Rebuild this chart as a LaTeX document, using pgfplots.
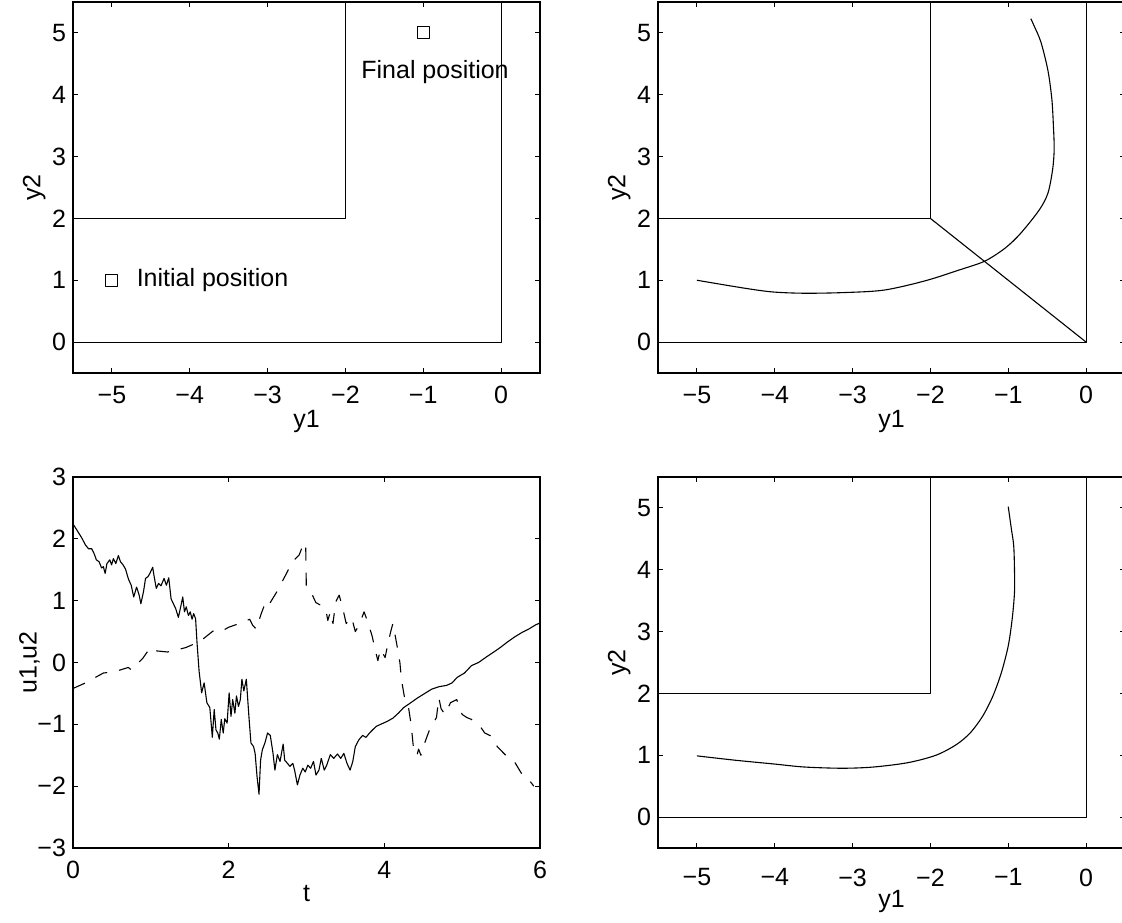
\documentclass[border=0pt]{standalone}
\usepackage{fontspec}
\setmainfont{Liberation Sans}
\usepackage{pgfplots}
\pgfplotsset{compat=1.18}
\pgfplotsset{
  myax/.style={
    width=233.5pt, height=185.5pt, scale only axis,
    anchor=south west,
    tick align=inside, major tick length=2.5pt,
    axis line style={line width=0.7pt, black},
    every tick/.style={black, line width=0.45pt},
    tick label style={font=\fontsize{12.5}{14}\selectfont},
    label style={font=\fontsize{12.5}{14}\selectfont},
    xticklabel style={yshift=-3pt},
    xlabel style={at={(axis description cs:0.5,-0.13)}, anchor=center},
    ylabel style={at={(axis description cs:-0.083,0.5)}, anchor=center},
    every axis plot/.append style={line width=0.55pt, black, line join=round},
  },
  posax/.style={
    myax,
    xmin=-5.5, xmax=0.5, ymin=-0.5, ymax=5.5,
    xtick={-5,-4,-3,-2,-1,0}, xticklabels={−5,−4,−3,−2,−1,0},
    ytick={0,1,2,3,4,5}, yticklabels={0,1,2,3,4,5},
    xlabel={y1}, ylabel={y2},
  }
}
\begin{document}
\begin{tikzpicture}
\path[use as bounding box] (0,0) rectangle (561pt,461pt);
\clip (0,0) rectangle (561pt,461pt);

% top-left
\begin{axis}[posax, at={(36.5pt,274.5pt)}]
\addplot[no marks] coordinates {(-5.5,2) (-2,2) (-2,5.5)};
\addplot[no marks] coordinates {(-5.5,0) (0,0) (0,5.5)};
\addplot[only marks, mark=square, mark size=3pt, mark options={line width=0.55pt}] coordinates {(-5,1) (-1,5)};
\node[anchor=west, inner sep=0pt, font=\fontsize{12.5}{14}\selectfont] at (axis cs:-4.686,1) {Initial position};
\node[anchor=west, inner sep=0pt, font=\fontsize{12.5}{14}\selectfont] at (axis cs:-1.80,4.37) {Final position};
\end{axis}

% top-right
\begin{axis}[posax, at={(329pt,274.5pt)}]
\addplot[no marks] coordinates {(-5.5,2) (-2,2) (-2,5.5)};
\addplot[no marks] coordinates {(-5.5,0) (0,0) (0,5.5)};
\addplot[no marks] coordinates {(-2,2) (0,0)};
\addplot[no marks, smooth] coordinates {
(-5,1.0) (-4.38,0.87) (-4.02,0.81) (-3.62,0.79) (-3.13,0.80) (-2.6,0.84)
(-2.07,0.99) (-1.62,1.17) (-1.30,1.31) (-1.04,1.52) (-0.84,1.76) (-0.6,2.14)
(-0.49,2.41) (-0.43,2.79) (-0.41,3.12) (-0.42,3.50) (-0.44,3.93) (-0.49,4.39)
(-0.58,4.85) (-0.67,5.12) (-0.71,5.23)};
\end{axis}

% bottom-left
\begin{axis}[myax, at={(36.5pt,37pt)},
  xmin=0, xmax=6, ymin=-3, ymax=3,
  xtick={0,2,4,6}, xticklabels={0,2,4,6},
  ytick={-3,-2,-1,0,1,2,3}, yticklabels={−3,−2,−1,0,1,2,3},
  xlabel={t}, ylabel={u1,u2},
  ylabel style={at={(axis description cs:-0.093,0.5)}},
  xlabel style={at={(axis description cs:0.5,-0.124)}}]
\addplot[no marks] coordinates {
(0,2.24) (0.046,2.15) (0.115,2.01) (0.16,1.90) (0.20,1.84) (0.24,1.84) (0.275,1.75)
(0.30,1.66) (0.335,1.63) (0.367,1.53) (0.39,1.55) (0.413,1.44) (0.436,1.60) (0.473,1.66)
(0.496,1.58) (0.519,1.68) (0.55,1.60) (0.583,1.73) (0.61,1.63) (0.643,1.58) (0.675,1.51)
(0.712,1.35) (0.748,1.25) (0.78,1.06) (0.817,1.22) (0.85,1.09) (0.872,0.95) (0.905,1.14)
(0.932,1.36) (0.964,1.39) (0.987,1.44) (1.024,1.54) (1.04,1.41) (1.07,1.20) (1.10,1.28)
(1.13,1.24) (1.17,1.36) (1.20,1.25) (1.23,1.37) (1.26,1.03) (1.29,0.95) (1.32,0.87)
(1.354,0.73) (1.387,0.92) (1.41,1.06) (1.432,0.82) (1.455,0.90) (1.483,0.76) (1.506,0.82)
(1.53,0.70) (1.55,0.79) (1.575,0.71) (1.593,0.33) (1.62,-0.14) (1.653,-0.49) (1.685,-0.33)
(1.72,-0.65) (1.758,-0.73) (1.79,-1.21) (1.814,-0.76) (1.837,-1.09) (1.86,-1.14) (1.88,-1.24)
(1.905,-0.92) (1.93,-1.14) (1.95,-0.91) (1.98,-0.98) (2.006,-0.49) (2.03,-0.87) (2.052,-0.60)
(2.08,-0.82) (2.10,-0.54) (2.126,-0.71) (2.15,-0.60) (2.17,-0.27) (2.195,-0.46) (2.227,-0.27)
(2.26,-0.87) (2.286,-1.30) (2.32,-1.36) (2.34,-1.47) (2.365,-1.85) (2.39,-2.13) (2.41,-1.58)
(2.433,-1.41) (2.466,-1.30) (2.50,-1.14) (2.535,-1.18) (2.57,-1.47) (2.594,-1.74) (2.626,-1.49)
(2.66,-1.60) (2.70,-1.32) (2.72,-1.58) (2.755,-1.63) (2.787,-1.68) (2.824,-1.63) (2.847,-1.74)
(2.883,-1.98) (2.916,-1.82) (2.952,-1.71) (2.984,-1.77) (3.017,-1.66) (3.053,-1.71) (3.09,-1.60)
(3.122,-1.82) (3.16,-1.74) (3.19,-1.55) (3.228,-1.74) (3.26,-1.66) (3.306,-1.49) (3.35,-1.55)
(3.398,-1.48) (3.44,-1.55) (3.48,-1.47) (3.52,-1.63) (3.56,-1.74) (3.595,-1.60) (3.627,-1.36)
(3.673,-1.25) (3.72,-1.18) (3.765,-1.21) (3.81,-1.14) (3.857,-1.08) (3.90,-1.03) (3.97,-0.99)
(4.04,-0.95) (4.11,-0.90) (4.18,-0.82) (4.247,-0.73) (4.34,-0.65) (4.43,-0.57) (4.52,-0.50)
(4.61,-0.43) (4.706,-0.39) (4.80,-0.37) (4.87,-0.33) (4.936,-0.24) (5.03,-0.17) (5.12,-0.05)
(5.21,0.00) (5.30,0.08) (5.395,0.16) (5.487,0.24) (5.58,0.33) (5.67,0.41) (5.76,0.48)
(5.854,0.54) (5.946,0.61) (6.0,0.64)};
\addplot[no marks, dash pattern=on 6.5pt off 6pt] coordinates {
(0,-0.42) (0.16,-0.33) (0.39,-0.17) (0.53,-0.15) (0.71,-0.08) (0.75,-0.12) (0.78,-0.08)
(0.895,0.065) (0.987,0.23) (1.02,0.18) (1.056,0.19) (1.217,0.17) (1.446,0.24) (1.63,0.34)
(1.81,0.52) (1.9,0.50) (2.0,0.57) (2.18,0.65) (2.27,0.70) (2.31,0.60) (2.355,0.54)
(2.41,0.76) (2.48,1.0) (2.525,0.95) (2.617,1.14) (2.73,1.41) (2.82,1.63) (2.906,1.74)
(2.94,1.85) (2.96,1.79) (2.99,1.88) (2.998,1.20) (3.076,1.09) (3.12,0.97) (3.19,0.92)
(3.246,0.87) (3.274,0.68) (3.306,0.82) (3.34,0.63) (3.375,0.98) (3.42,1.09) (3.476,0.82)
(3.51,0.63) (3.58,0.73) (3.627,0.50) (3.673,0.60) (3.74,0.82) (3.788,0.65) (3.843,0.43)
(3.88,0.22) (3.917,0.03) (3.95,0.22) (4.01,0.08) (4.04,0.27) (4.086,0.52) (4.11,0.63)
(4.155,0.33) (4.20,0.0) (4.22,-0.28) (4.26,-0.57) (4.31,-0.72) (4.34,-0.97) (4.36,-1.2)
(4.38,-1.46) (4.42,-1.5) (4.44,-1.4) (4.47,-1.5) (4.51,-1.33) (4.58,-1.09) (4.62,-1.0)
(4.67,-0.89) (4.70,-0.57) (4.73,-0.75) (4.78,-0.84) (4.85,-0.65) (4.93,-0.6) (5.0,-0.84)
(5.06,-0.89) (5.12,-0.92) (5.23,-1.03) (5.29,-1.14) (5.39,-1.2) (5.45,-1.36) (5.56,-1.5)
(5.6,-1.53) (5.67,-1.6) (5.76,-1.79) (5.83,-1.85) (5.92,-2.0)};
\end{axis}

% bottom-right
\begin{axis}[posax, at={(329pt,37pt)},
  xticklabel style={yshift=-3.8pt},
  xlabel style={at={(axis description cs:0.5,-0.145)}}]
\addplot[no marks] coordinates {(-5.5,2) (-2,2) (-2,5.5)};
\addplot[no marks] coordinates {(-5.5,0) (0,0) (0,5.5)};
\addplot[no marks, smooth] coordinates {
(-5,0.99) (-4.51,0.92) (-4.02,0.86) (-3.62,0.81) (-3.13,0.79) (-2.73,0.81) (-2.29,0.88)
(-1.93,1.00) (-1.67,1.17) (-1.49,1.36) (-1.33,1.63) (-1.2,1.95) (-1.09,2.33) (-1.0,2.77)
(-0.95,3.2) (-0.92,3.63) (-0.92,4.01) (-0.93,4.39) (-0.96,4.66) (-1.0,5.02)};
\end{axis}
\end{tikzpicture}
\end{document}
